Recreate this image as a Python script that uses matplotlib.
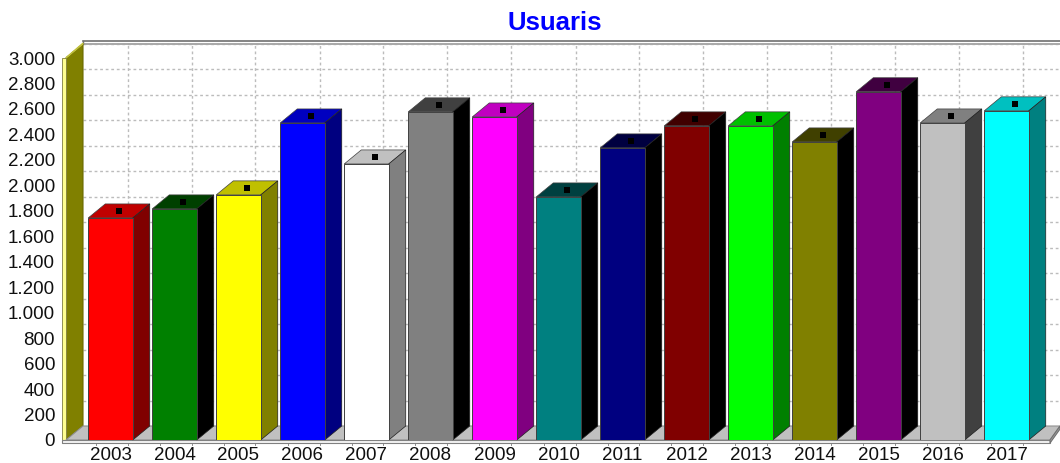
import matplotlib
matplotlib.use('Agg')
from matplotlib import pyplot as plt
from matplotlib.patches import Polygon

years = ['2003', '2004', '2005', '2006', '2007', '2008', '2009', '2010',
         '2011', '2012', '2013', '2014', '2015', '2016', '2017']
usuaris = [1744, 1815, 1925, 2490, 2168, 2577, 2537, 1909,
           2294, 2467, 2467, 2341, 2735, 2490, 2585]
front_colors = ['#ff0000', '#008000', '#ffff00', '#0000ff', '#ffffff', '#808080', '#ff00ff', '#008080',
                '#000080', '#800000', '#00ff00', '#808000', '#800080', '#c0c0c0', '#00ffff']
top_colors = ['#c00000', '#004000', '#c0c000', '#0000c0', '#c0c0c0', '#404040', '#c000c0', '#004040',
              '#000040', '#400000', '#00c000', '#404000', '#400040', '#808080', '#00c0c0']
side_colors = ['#800000', '#000000', '#808000', '#000080', '#808080', '#000000', '#800080', '#000000',
               '#000000', '#000000', '#008000', '#000000', '#000000', '#404040', '#008080']
y_ticks = list(range(0, 3001, 200))
y_labels = ['{:,}'.format(v).replace(',', '.') for v in y_ticks]

W, H = 1060, 463
plt.rcParams['font.family'] = ['Liberation Sans', 'DejaVu Sans']

fig = plt.figure(figsize=(W / 100, H / 100), dpi=100, facecolor='white')
# front plane of the chart, pixels: x 62..1060, y 440 (zero) .. 58 (3000)
ax = fig.add_axes([62 / W, (H - 440) / H, (W - 62) / W, 382 / H])
ax.set_xlim((62 - 110.5) / 64, (W - 110.5) / 64)
ax.set_ylim(0, 3000)
ax.patch.set_alpha(0)
for s in ax.spines.values():
    s.set_visible(False)

# 3d depth, converted to data units
dx = 17 / 64
dy = 14 * 3000 / 382
bar_w = 44.5 / 64
x0, x1 = ax.get_xlim()
wall_l = (66 - 110.5) / 64


def face(pts, color, edge=None, z=2, lw=0.8):
    ax.add_patch(Polygon(pts, closed=True, facecolor=color, edgecolor=edge or color,
                         linewidth=lw, zorder=z, clip_on=False))


# back wall grid
for v in y_ticks[1:]:
    ax.plot([wall_l + dx, x1], [v + dy, v + dy], color='#bcbcbc', lw=1, ls=(0, (2, 2)), zorder=1, clip_on=False)
for i in range(len(years)):
    ax.plot([i + dx, i + dx], [dy, 3000 + dy], color='#bcbcbc', lw=1, ls=(0, (2, 2)), zorder=1, clip_on=False)
ax.plot([wall_l + dx, x1], [3000 + dy + 24, 3000 + dy + 24], color='#707070', lw=1.2, zorder=1, clip_on=False)
ax.plot([wall_l + dx, x1], [3000 + dy, 3000 + dy], color='#a8a8a8', lw=1.4, zorder=1, clip_on=False)
ax.plot([wall_l + dx, wall_l + dx], [3000 + dy, 3000 + dy + 24], color='#707070', lw=1, zorder=1, clip_on=False)

# left wall and floor
strip_r = (1050 - 110.5) / 64
face([(wall_l, 0), (wall_l + dx, dy), (wall_l + dx, 3000 + dy), (wall_l, 3000)], '#808000', '#6a6a00', z=1.5)
face([(wall_l, 3000), (wall_l + dx, 3000 + dy), (wall_l + dx, 3000 + dy + 8), (wall_l + 0.01, 3000 + 8)], '#c0c040', z=1.5)
face([(x0, -20), (wall_l, -20), (wall_l, 3000), (x0, 3000)], '#ffff90', '#808040', z=1.5, lw=0.6)
face([(wall_l, 0), (wall_l + dx, dy), (x1, dy), (strip_r, 0)], '#c0c0c0', '#909090', z=1.5)
face([(x0, 0), (strip_r, 0), (strip_r, -24), (x0, -24)], '#f4f4f4', '#808080', z=1.5)
face([(strip_r, 0), (x1, dy), (x1, dy - 24), (strip_r, -24)], '#a0a0a0', '#707070', z=1.5)

# bars: front face through bar(), top and side built from the value
ax.bar(range(len(years)), usuaris, width=bar_w, color=front_colors, edgecolor='#404040', linewidth=0.7, zorder=3)
for i, v in enumerate(usuaris):
    l, r = i - bar_w / 2, i + bar_w / 2
    face([(l, v), (l + dx, v + dy), (r + dx, v + dy), (r, v)], top_colors[i], '#404040', lw=0.5)
    face([(r, 0), (r + dx, dy), (r + dx, v + dy), (r, v)], side_colors[i], '#202020', lw=0.5)
    ax.scatter([i + dx / 2], [v + dy / 2], marker='s', s=14, color='black', linewidths=0, zorder=4, clip_on=False)

ax.set_yticks(y_ticks)
ax.set_yticklabels(y_labels, fontsize=13.5, color='#101010')
ax.set_xticks(range(len(years)))
ax.set_xticklabels(years, fontsize=13.5, color='#101010')
ax.tick_params(axis='y', length=0, pad=5)
ax.tick_params(axis='x', length=0, pad=5)

# small marks under the floor strip
for i in range(len(years)):
    for off in (dx - 0.5, dx):
        ax.plot([i + off, i + off], [-24, -40], color='#909090', lw=0.7, zorder=1, clip_on=False)

fig.text(555 / W, 1 - 23 / H, 'Usuaris', fontsize=18.5, fontweight='bold', color='#0000ff', ha='center', va='center')

fig.savefig('out.png', dpi=100)
